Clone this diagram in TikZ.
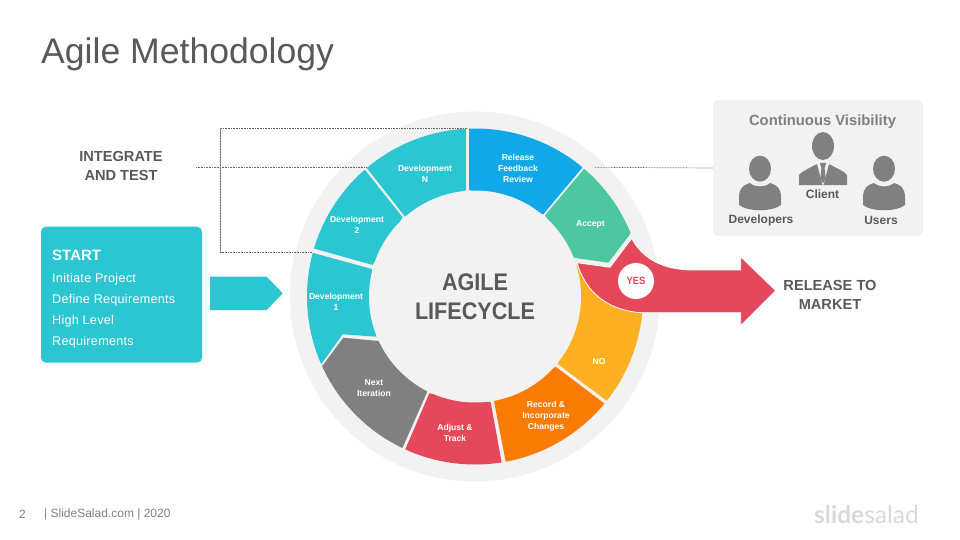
\documentclass[tikz,border=0pt]{standalone}
\usepackage{fontspec}
\setmainfont{Liberation Sans}
\newfontfamily\logofont{Lato}
\newfontfamily\condfont[FakeStretch=0.9]{Liberation Sans}
\definecolor{teal1}{HTML}{2CC6D3}
\definecolor{blue1}{HTML}{10A8E8}
\definecolor{green1}{HTML}{4DC79F}
\definecolor{yellow1}{HTML}{FDB022}
\definecolor{orange1}{HTML}{FB7B03}
\definecolor{red1}{HTML}{E4485A}
\definecolor{gray1}{HTML}{808080}
\definecolor{pale}{HTML}{F2F2F2}
\definecolor{ink}{HTML}{595959}
\tikzset{
  seglabel/.style={text=white,font=\bfseries\fontsize{8.6}{11}\selectfont,align=center,inner sep=0pt},
  biglabel/.style={text=ink,font=\bfseries\fontsize{14.6}{19}\selectfont,align=center,inner sep=0pt},
  peoplelabel/.style={text=ink,font=\bfseries\fontsize{12}{14}\selectfont,inner sep=0pt},
  startline/.style={text=white,font=\fontsize{12.6}{15}\selectfont\addfontfeature{LetterSpace=2.2},anchor=west,inner sep=0pt},
  link/.style={draw=black!60,dash pattern=on 0.8pt off 0.8pt,line width=0.7pt},
  foot/.style={text=gray1,font=\fontsize{12}{14}\selectfont,anchor=west,inner sep=0pt}
}
\newcommand{\personbody}[1]{%
  \begin{scope}[shift={(#1,0)}]
  \fill[gray1] (0,168.7) ellipse [x radius=11pt,y radius=13pt];
  \fill[gray1] (-10,183) .. controls (-17,185) and (-21,188) .. (-21,198) -- (-21,205)
     .. controls (-12,212) and (12,212) .. (21,205) -- (21,198)
     .. controls (21,188) and (17,185) .. (10,183)
     .. controls (5,187.5) and (-5,187.5) .. (-10,183) -- cycle;
  \end{scope}
}
\begin{document}
\begin{tikzpicture}[x=1pt,y=-1pt]
\useasboundingbox (0,0) rectangle (960,540);
% title
\node[anchor=west,inner sep=0pt,text=ink,font=\fontsize{35.6}{40}\selectfont] (title) at (41,54) {Agile Methodology};
% outer disc
\fill[pale] (475,296.5) circle (185pt);
% ring segments
\begin{scope}
\clip (475,296.5) circle (168pt);
\fill[teal1] (405,216.7) -- (350,146.5) -- (380,100) -- (466,100) -- (466,190) -- cycle;
\fill[blue1] (469,190) -- (469,100) -- (560,100) -- (600,146.5) -- (543.3,214.3) -- cycle;
\fill[green1] (545,215.3) -- (601,148.7) -- (680,170) -- (650,208) -- (608.3,262.7) -- (573.3,257.7) -- cycle;
\fill[teal1] (402.7,217.3) -- (350,151.2) -- (290,170) -- (290,241.8) -- (372.7,265) -- cycle;
\fill[teal1] (371.7,269) -- (290,246.6) -- (270,320) -- (305,386.9) -- (342.7,334.3) -- (376.7,336.7) -- cycle;
\fill[gray1] (378.3,341) -- (343.3,337.7) -- (305,389.3) -- (340,450) -- (392,471.6) -- (427.3,391.7) -- cycle;
\fill[red1] (429.3,393.3) -- (395,473.3) -- (440,500) -- (505,480.8) -- (490.7,402.3) -- cycle;
\fill[orange1] (494,401) -- (509,478.8) -- (590,470) -- (625,419.1) -- (555.7,366.7) -- cycle;
\fill[yellow1] (557.7,364) -- (625,414.4) -- (680,340) -- (680,313) -- (641,313)
   .. controls (605,310) and (585,290) .. (577,263) -- cycle;
\end{scope}
% hub
\fill[pale] (475,296.5) circle (106pt);
% visibility panel
\node[draw=none,fill=pale,rounded corners=5pt,minimum width=210pt,minimum height=136pt,inner sep=0pt] (panel) at (818,168) {};
% dotted links
\coordinate (loopTop) at (467,128.3);
\coordinate (loopTL) at (220.7,128.3);
\coordinate (loopBL) at (220.7,252.3);
\coordinate (loopBot) at (312,252.3);
\coordinate (itStart) at (196,167.5);
\coordinate (itEnd) at (366,167.5);
\coordinate (visStart) at (595,167.3);
\draw[draw=gray!55,line width=0.6pt] (loopTL) -- (loopBL);
\draw[link] (loopTop) -- (loopTL) -- (loopBL) -- (loopBot);
\draw[link] (itStart) -- (itEnd);
\draw[link] (visStart) -- (panel.west);
% arrow
\fill[red1,draw=white,line width=0.8pt,line join=miter] (577,262.7) -- (610,267.3) -- (631.7,238.3)
  .. controls (642,258) and (662,270) .. (693,270) -- (740.7,270) -- (740.7,256.7) -- (775.7,290.7)
  -- (740.7,325.7) -- (740.7,312.7) -- (641,312.7)
  .. controls (605,310) and (585,290) .. (577,262.7) -- cycle;
\node[circle,fill=white,minimum size=36pt,inner sep=0pt,text=red1,font=\condfont\bfseries\fontsize{10.5}{12}\selectfont] (yes) at (636,281) {YES};
% ring labels
\node[seglabel] (devN) at (425,173.5) {Development\\N};
\node[seglabel] (release) at (518,168) {Release\\Feedback\\Review};
\node[seglabel] (accept) at (590.5,224) {Accept};
\node[seglabel] (dev2) at (357,225) {Development\\2};
\node[seglabel] (dev1) at (336,302) {Development\\1};
\node[seglabel] (next) at (374,388.5) {Next\\Iteration};
\node[seglabel] (adjust) at (455,433) {Adjust \&\\Track};
\node[seglabel] (record) at (546,416) {Record \&\\Incorporate\\Changes};
\node[seglabel] (no) at (599,361.5) {NO};
\node[text=ink,font=\condfont\bfseries\fontsize{24}{29}\selectfont,align=center,inner sep=0pt] (hub) at (475,297) {AGILE\\LIFECYCLE};
% left side
\node[biglabel] (integrate) at (121,165.5) {INTEGRATE\\AND TEST};
\node[fill=teal1,rounded corners=5pt,minimum width=161pt,minimum height=136pt,inner sep=0pt] (start) at (121.5,294.7) {};
\node[anchor=west,inner sep=0pt,text=white,font=\bfseries\fontsize{15}{18}\selectfont] (startT) at (52,255) {START};
\node[startline] (s1) at (52,279.5) {Initiate Project};
\node[startline] (s2) at (52,300) {Define Requirements};
\node[startline] (s3) at (52,321) {High Level};
\node[startline] (s4) at (52,342) {Requirements};
\fill[teal1] (210,276.7) -- (266.7,276.7) -- (282.7,293.3) -- (266.7,310) -- (210,310) -- cycle;
% right side
\node[biglabel] (market) at (830,294.5) {RELEASE TO\\MARKET};
\node[text=gray1,font=\bfseries\fontsize{14.8}{18}\selectfont,inner sep=0pt] (cv) at (822.5,121.5) {Continuous Visibility};
\personbody{760}
\personbody{884}
\fill[gray1] (823,146) ellipse [x radius=11pt,y radius=14pt];
\fill[gray1] (799,185) -- (799,175) .. controls (802,171) and (810,168) .. (816,164.5) -- (830,164.5)
  .. controls (836,168) and (844,171) .. (847,175) -- (847,185) -- cycle;
\fill[pale] (817,163.5) -- (829,163.5) -- (823.3,185.5) -- (822.7,185.5) -- cycle;
\fill[gray1] (819.8,163) -- (826.2,163) -- (824.6,168) -- (825.6,178) -- (823,183.5) -- (820.4,178) -- (821.4,168) -- cycle;
\node[peoplelabel] (developers) at (761,220.5) {Developers};
\node[peoplelabel] (client) at (822.5,194) {Client};
\node[peoplelabel] (users) at (881,220.5) {Users};
% footer
\node[foot] (pageno) at (19,514) {2};
\node[foot] (site) at (44,514) {| SlideSalad.com | 2020};
\node[anchor=west,inner sep=0pt,text=black!15,font=\logofont\fontsize{24.5}{28}\selectfont] (logo) at (814,514) {\textbf{slide}salad};
\end{tikzpicture}
\end{document}
